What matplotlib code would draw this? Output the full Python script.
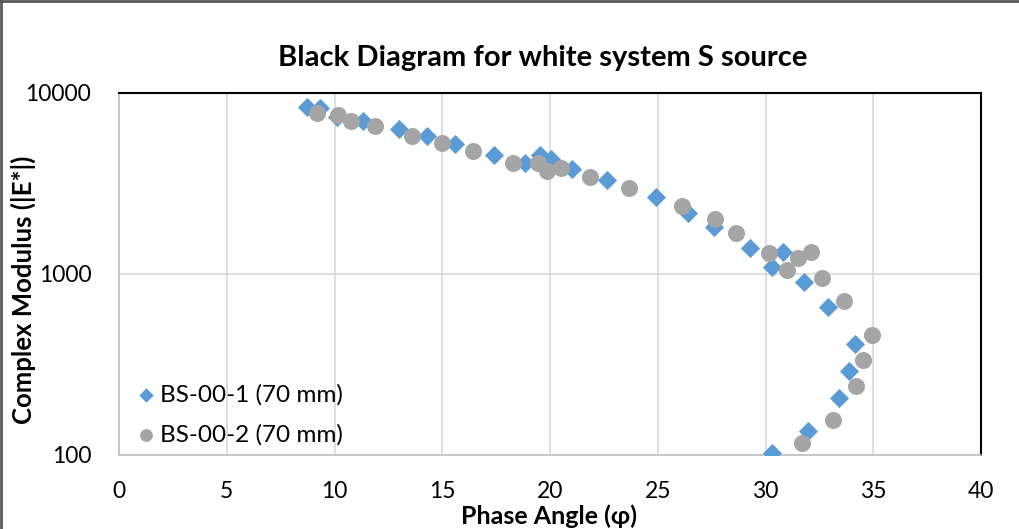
import matplotlib.pyplot as plt
from matplotlib.ticker import FixedLocator, FixedFormatter, NullLocator
from matplotlib.lines import Line2D

# BS-00-1 (70 mm)
phi_1 = [8.71, 9.33, 10.12, 11.31, 13.01, 14.28, 15.59, 17.42, 18.84, 19.54, 20.03,
         21.01, 22.66, 24.92, 26.42, 27.61, 29.28, 30.80, 30.29, 31.79, 32.91,
         34.15, 33.89, 33.41, 31.96, 30.29]
mod_1 = [8340, 8230, 7370, 7000, 6300, 5790, 5230, 4550, 4090, 4550, 4320,
         3800, 3310, 2650, 2180, 1810, 1397, 1328, 1089, 907, 661,
         409, 291, 206, 136, 102]

# BS-00-2 (70 mm)
phi_2 = [9.20, 10.18, 10.75, 11.88, 13.61, 15.00, 16.41, 18.27, 19.43, 19.85, 20.50,
         21.86, 23.67, 26.14, 27.66, 28.63, 30.18, 31.01, 31.52, 32.10, 32.61,
         33.66, 34.96, 34.54, 34.20, 33.12, 31.68]
mod_2 = [7790, 7560, 7030, 6570, 5810, 5270, 4780, 4120, 4120, 3707, 3866,
         3421, 2976, 2384, 2005, 1692, 1312, 1052, 1233, 1328, 947,
         707, 460, 335, 241, 157, 116]

x_ticks = [0, 5, 10, 15, 20, 25, 30, 35, 40]
y_ticks = [100, 1000, 10000]

plt.rcParams['font.family'] = ['Lato', 'DejaVu Sans']

fig = plt.figure(figsize=(10.2, 5.29), dpi=100)
ax = fig.add_axes([0.1167, 0.1399, 0.8451, 0.6843])

ax.scatter(phi_1, mod_1, marker='D', s=95, color='#5b9bd5', zorder=3,
           label='BS-00-1 (70 mm)', linewidths=0)
ax.scatter(phi_2, mod_2, marker='o', s=150, color='#a5a5a5', zorder=3,
           label='BS-00-2 (70 mm)', linewidths=0)

ax.set_xlim(0, 40)
ax.set_yscale('log')
ax.set_ylim(100, 10000)
ax.xaxis.set_major_locator(FixedLocator(x_ticks))
ax.yaxis.set_major_locator(FixedLocator(y_ticks))
ax.yaxis.set_major_formatter(FixedFormatter([str(v) for v in y_ticks]))
ax.yaxis.set_minor_locator(NullLocator())
ax.tick_params(length=0, labelsize=16.5)
ax.tick_params(axis='y', pad=20)
ax.tick_params(axis='x', pad=19)
ax.grid(True, color='#d9d9d9', linewidth=1.2, zorder=0)
ax.set_axisbelow(True)

for side in ['left', 'bottom']:
    ax.spines[side].set_color('#bfbfbf')
    ax.spines[side].set_linewidth(1.2)
for side in ['top', 'right']:
    ax.spines[side].set_color('black')
    ax.spines[side].set_linewidth(1.5)

ax.set_xlabel('Phase Angle (\u03c6)', fontsize=18, fontweight='bold', va='center')
ax.set_ylabel('Complex Modulus (|E*|)', fontsize=18.5, fontweight='bold', va='center')
ax.xaxis.set_label_coords(0.499, -0.17)
ax.yaxis.set_label_coords(-0.111, 0.455)
fig.text(0.532, 0.89, 'Black Diagram for white system S source', fontsize=21,
         fontweight='bold', ha='center', va='center')

ax.legend(loc='lower left', frameon=False, fontsize=17.5, handletextpad=0.0,
          handlelength=1.15, markerscale=0.75, labelspacing=0.75,
          borderaxespad=0, bbox_to_anchor=(0.004, 0.0))

# outer chart border (left and top edges visible in the reference)
fig.add_artist(Line2D([0.001, 0.001], [0, 0.999], transform=fig.transFigure,
                      color='#595959', linewidth=2))
fig.add_artist(Line2D([0, 1], [0.998, 0.998], transform=fig.transFigure,
                      color='#595959', linewidth=2))

fig.savefig('out.png', dpi=100)
